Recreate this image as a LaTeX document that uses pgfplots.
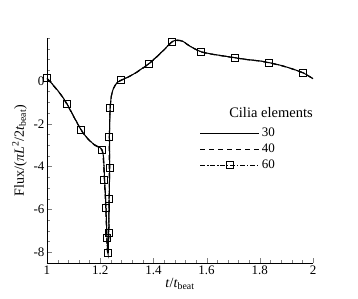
\documentclass[border=0pt]{standalone}
\usepackage{fontspec}
\setmainfont{Liberation Serif}
\usepackage{pgfplots}
\pgfplotsset{compat=1.18}
\usetikzlibrary{calc}
\begin{document}
\begin{tikzpicture}
\begin{axis}[
  width=266pt, height=225pt, scale only axis,
  xmin=1, xmax=2, ymin=-8.5, ymax=2,
  axis x line*=bottom, axis y line*=left,
  tick align=inside,
  xtick={1,1.2,1.4,1.6,1.8,2}, minor x tick num=4,
  ytick={-8,-6,-4,-2,0}, minor ytick={-8.5,-8,...,2},
  major tick length=5pt, minor tick length=3pt,
  /pgf/number format/assume math mode=true,
  ticklabel style={font=\fontsize{13}{15}\selectfont},
  xticklabel style={yshift=1pt},
  yticklabel style={xshift=1pt},
  xlabel={\textit{t}/\textit{t}\textsubscript{beat}},
  ylabel={Flux/(\textit{π}\textit{L}\textsuperscript{2}/2\textit{t}\textsubscript{beat})},
  label style={font=\fontsize{14}{16}\selectfont},
  xlabel style={yshift=3pt},
  ylabel style={yshift=0pt},
  legend style={draw=none, fill=none, at={(axis cs:1.57,-2.05)}, anchor=north west,
    font=\fontsize{13}{15}\selectfont, row sep=2pt, inner sep=1pt},
  legend cell align=left,
  legend image code/.code={\draw[mark repeat=2,mark phase=2,#1] plot coordinates {(0pt,0pt) (29.5pt,0pt) (59pt,0pt)};},
  every axis plot/.append style={line width=1pt},
]
% 30 elements
\addplot[black, solid, smooth, tension=0.4] coordinates {
(1.000,0.12) (1.02,-0.15) (1.05,-0.6) (1.075,-1.07) (1.10,-1.65) (1.128,-2.28) (1.15,-2.65) (1.175,-2.95) (1.200,-3.12) (1.207,-3.22) (1.212,-3.5) (1.215,-4.1) (1.217,-4.7) (1.220,-5.4) (1.222,-6.0) (1.224,-6.7) (1.226,-7.4) (1.228,-7.9) (1.230,-8.1) (1.231,-7.6) (1.232,-7.0) (1.233,-6.2) (1.234,-5.4) (1.235,-4.6) (1.235,-3.8) (1.235,-3.0) (1.235,-2.4) (1.236,-1.8) (1.238,-1.2) (1.242,-0.7) (1.250,-0.35) (1.262,-0.1) (1.278,0.03) (1.30,0.15) (1.33,0.35) (1.36,0.6) (1.383,0.8) (1.41,1.1) (1.44,1.45) (1.47,1.83) (1.49,1.9) (1.51,1.85) (1.54,1.6) (1.579,1.36) (1.62,1.25) (1.66,1.17) (1.707,1.08) (1.75,1.0) (1.80,0.93) (1.835,0.85) (1.88,0.72) (1.92,0.57) (1.962,0.38) (1.985,0.22) (2.0,0.1)};
\addlegendentry{30}
% 40 elements
\addplot[black, dash pattern=on 5pt off 4pt, smooth, tension=0.4] coordinates {
(1.000,0.1) (1.02,-0.17) (1.05,-0.62) (1.075,-1.1) (1.10,-1.67) (1.128,-2.3) (1.15,-2.67) (1.175,-2.97) (1.200,-3.15) (1.207,-3.25) (1.211,-3.6) (1.214,-4.2) (1.216,-4.8) (1.219,-5.5) (1.221,-6.1) (1.223,-6.8) (1.225,-7.5) (1.227,-7.95) (1.229,-8.05) (1.231,-7.5) (1.232,-6.9) (1.233,-6.1) (1.234,-5.3) (1.234,-4.5) (1.234,-3.7) (1.234,-2.9) (1.235,-2.3) (1.236,-1.7) (1.238,-1.15) (1.243,-0.65) (1.251,-0.33) (1.263,-0.1) (1.278,0.02) (1.30,0.14) (1.33,0.34) (1.36,0.58) (1.383,0.79) (1.41,1.08) (1.44,1.44) (1.47,1.81) (1.49,1.88) (1.51,1.84) (1.54,1.59) (1.579,1.35) (1.62,1.24) (1.66,1.16) (1.707,1.07) (1.75,0.99) (1.80,0.92) (1.835,0.84) (1.88,0.71) (1.92,0.56) (1.962,0.37) (1.985,0.21) (2.0,0.09)};
\addlegendentry{40}
% 60 elements
\addplot[black, dash pattern=on 5pt off 2pt on 1pt off 2pt, smooth, tension=0.4, mark=square, mark size=3.5pt, mark repeat=1000, mark options={solid, line width=0.8pt}] coordinates {
(1.000,0.12) (1.02,-0.15) (1.05,-0.6) (1.075,-1.07) (1.10,-1.65) (1.128,-2.28) (1.15,-2.65) (1.175,-2.95) (1.200,-3.12) (1.207,-3.22) (1.212,-3.5) (1.215,-4.3) (1.217,-4.8) (1.220,-5.5) (1.222,-6.0) (1.224,-6.8) (1.225,-7.35) (1.227,-7.9) (1.229,-8.05) (1.231,-7.6) (1.233,-7.1) (1.233,-6.3) (1.233,-5.5) (1.235,-4.7) (1.236,-4.05) (1.235,-3.3) (1.234,-2.6) (1.236,-1.9) (1.237,-1.25) (1.242,-0.7) (1.250,-0.35) (1.262,-0.1) (1.278,0.03) (1.30,0.15) (1.33,0.35) (1.36,0.6) (1.383,0.8) (1.41,1.1) (1.44,1.45) (1.47,1.83) (1.49,1.9) (1.51,1.85) (1.54,1.6) (1.579,1.36) (1.62,1.25) (1.66,1.17) (1.707,1.08) (1.75,1.0) (1.80,0.93) (1.835,0.85) (1.88,0.72) (1.92,0.57) (1.962,0.38) (1.985,0.22) (2.0,0.1)};
\addlegendentry{60}
\addplot[black, only marks, mark=square, mark size=3.5pt, mark options={line width=0.8pt}, forget plot] coordinates {
(1.075,-1.07) (1.128,-2.28) (1.207,-3.2) (1.215,-4.6) (1.222,-5.95) (1.225,-7.35) (1.229,-8.05) (1.233,-7.1) (1.233,-5.5) (1.237,-4.05) (1.233,-2.6) (1.237,-1.25) (1.278,0.03) (1.383,0.8) (1.47,1.83) (1.579,1.36) (1.707,1.08) (1.835,0.85) (1.962,0.38)};
\node[font=\fontsize{14.5}{16}\selectfont] at (axis cs:1.842,-1.49) {Cilia elements};
\coordinate (sw) at (rel axis cs:0,0);
\coordinate (ne) at (rel axis cs:1,1);
\end{axis}
\pgfresetboundingbox
\path[use as bounding box] ($(sw)+(-47pt,-36pt)$) rectangle ($(ne)+(45pt,38pt)$);
\end{tikzpicture}
\end{document}
